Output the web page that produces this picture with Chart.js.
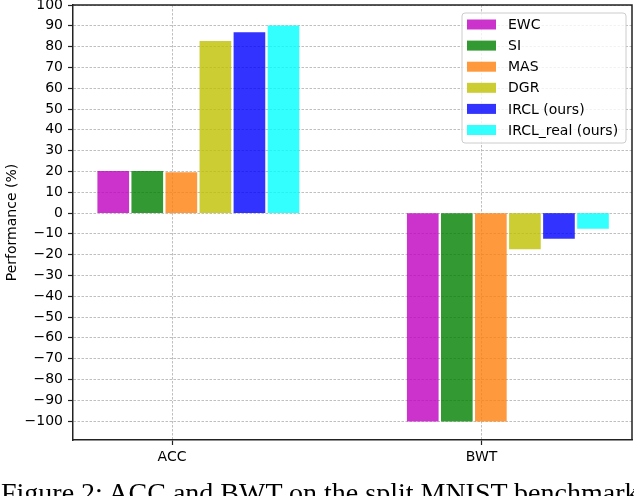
<!DOCTYPE html>
<html lang="en">
<head>
    <meta charset="UTF-8">
    <title>ACC and BWT</title>
    <style>
        body {
            margin: 0;
            background: #fff;
            overflow: hidden;
        }
        #wrap {
            position: absolute;
            left: 0;
            top: 0;
            width: 634px;
            height: 496px;
        }
        #caption {
            position: absolute;
            left: 1px;
            top: 479px;
            font-family: "Liberation Serif", serif;
            font-size: 28px;
            line-height: 28px;
            white-space: nowrap;
            color: #000;
        }
    </style>
</head>
<body>
    <div id="wrap"><canvas id="chart"></canvas></div>
    <div id="caption">Figure 2: ACC and BWT on the split MNIST benchmark</div>

    <script src="https://cdn.jsdelivr.net/npm/chart.js"></script>
    <script>
        // values
        const categories = ["ACC", "BWT"];
        const methods = ["EWC", "SI", "MAS", "DGR", "IRCL (ours)", "IRCL_real (ours)"];
        const ewc = [20, -100];
        const si = [20, -100];
        const mas = [19.5, -100];
        const dgr = [82.5, -17.3];
        const ircl = [86.7, -12.2];
        const irclReal = [90, -7.4];
        const yTicks = [-100, -90, -80, -70, -60, -50, -40, -30, -20, -10, 0, 10, 20, 30, 40, 50, 60, 70, 80, 90, 100];

        const series = [ewc, si, mas, dgr, ircl, irclReal];
        const colors = [
            "rgba(191,0,191,0.8)",
            "rgba(0,128,0,0.8)",
            "rgba(255,127,14,0.8)",
            "rgba(191,191,0,0.8)",
            "rgba(0,0,255,0.8)",
            "rgba(0,255,255,0.8)"
        ];

        // bars sit to the right of each tick, one slot per method
        const firstOffset = -0.19;
        const slot = 0.11;

        const datasets = methods.map((name, i) => ({
            label: name,
            data: categories.map((c, j) => ({ x: j + firstOffset + i * slot, y: series[i][j] })),
            backgroundColor: colors[i],
            borderWidth: 0,
            grouped: false,
            barThickness: 31
        }));

        const font = { family: "DejaVu Sans", size: 14 };
        const gridStyle = {
            color: "rgba(176,176,176,0.9)",
            lineWidth: 0.9,
            tickColor: "#222",
            tickWidth: 1.2,
            tickLength: 5,
            tickBorderDash: [],
            offset: false
        };

        // top and right spines + the boxed legend
        const frameAndLegend = {
            id: "frameAndLegend",
            afterDraw(chart) {
                const ctx = chart.ctx;
                const a = chart.chartArea;
                ctx.save();
                ctx.strokeStyle = "#222";
                ctx.lineWidth = 1.5;
                ctx.beginPath();
                ctx.moveTo(a.left, a.top);
                ctx.lineTo(a.right, a.top);
                ctx.lineTo(a.right, a.bottom);
                ctx.stroke();

                const w = 164, h = 130;
                const bx = a.right - 6 - w, by = a.top + 8;
                ctx.beginPath();
                ctx.roundRect(bx, by, w, h, 3);
                ctx.fillStyle = "rgba(255,255,255,0.8)";
                ctx.fill();
                ctx.strokeStyle = "#cccccc";
                ctx.lineWidth = 1;
                ctx.stroke();

                ctx.font = "14px 'DejaVu Sans'";
                ctx.textBaseline = "middle";
                chart.data.datasets.forEach((ds, i) => {
                    const cy = by + 11.5 + i * 21.1;
                    ctx.fillStyle = ds.backgroundColor;
                    ctx.fillRect(bx + 5, cy - 5, 29, 10);
                    ctx.fillStyle = "#000";
                    ctx.fillText(ds.label, bx + 46, cy + 1);
                });
                ctx.restore();
            }
        };

        new Chart(document.getElementById("chart"), {
            type: "bar",
            data: { datasets },
            options: {
                responsive: true,
                maintainAspectRatio: false,
                animation: false,
                layout: { padding: { top: 5, right: 2, left: 0, bottom: 0 } },
                plugins: {
                    legend: { display: false },
                    tooltip: { enabled: false }
                },
                scales: {
                    x: {
                        type: "linear",
                        min: -0.32,
                        max: 1.486,
                        offset: false,
                        z: 1,
                        afterBuildTicks: s => { s.ticks = categories.map((c, j) => ({ value: j })); },
                        afterFit: s => { s.height = 56; s.paddingLeft = 0; s.paddingRight = 0; },
                        ticks: {
                            font,
                            color: "#000",
                            padding: 4,
                            autoSkip: false,
                            maxRotation: 0,
                            callback: v => categories[v]
                        },
                        grid: Object.assign({}, gridStyle, { borderDash: [2.5, 1.5] }),
                        border: { color: "#222", width: 1.5, dash: [2.5, 1.5] }
                    },
                    y: {
                        min: -109.1,
                        max: 100,
                        z: 1,
                        afterBuildTicks: s => { s.ticks = yTicks.map(v => ({ value: v })); },
                        afterFit: s => { s.width = 73; s.paddingTop = 0; s.paddingBottom = 0; },
                        ticks: {
                            font,
                            color: "#000",
                            padding: 5,
                            callback: v => (v < 0 ? "\u2212" + Math.abs(v) : String(v))
                        },
                        grid: gridStyle,
                        border: { color: "#222", width: 1.5, dash: [2.5, 1.5] },
                        title: {
                            display: true,
                            text: "Performance (%)",
                            font,
                            color: "#000",
                            padding: { top: 4, bottom: 0 }
                        }
                    }
                }
            },
            plugins: [frameAndLegend]
        });
    </script>
</body>
</html>
